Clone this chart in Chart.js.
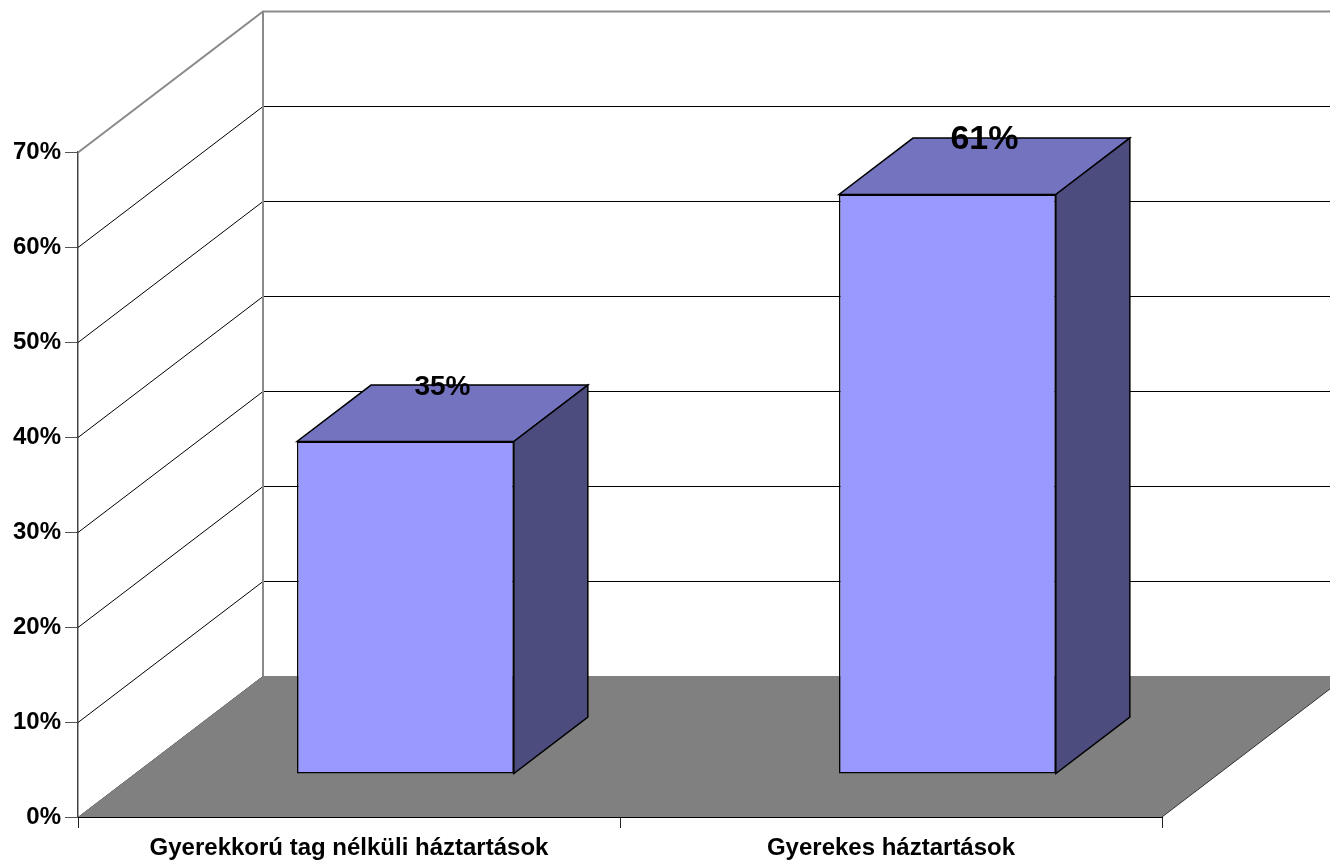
<!DOCTYPE html>
<html>
<head>
<meta charset="utf-8">
<script src="https://cdn.jsdelivr.net/npm/chart.js@4/dist/chart.umd.min.js"></script>
<style>
  html, body { margin: 0; padding: 0; background: #fff; }
</style>
</head>
<body>
<canvas id="chart" width="1330" height="861"></canvas>
<script>
const categories = ['Gyerekkorú tag nélküli háztartások', 'Gyerekes háztartások'];
const shares = [35, 61];
const tickValues = [0, 10, 20, 30, 40, 50, 60, 70];

const FONT = "'Liberation Sans', Arial, sans-serif";
// perspective offset of the back wall
const DX = 185, DY = -141;
const BAR_FRONT = 0.305; // where the bar front sits in depth
const BAR_DEPTH = 0.4;   // how deep the bars are
const labelSizes = [28, 34];

const threeD = {
    id: 'threeD',
    beforeDatasetsDraw(chart) {
        const { ctx, chartArea: a, scales: { y } } = chart;
        ctx.save();
        // walls: side wall diagonals + back wall lines
        tickValues.forEach((v, i) => {
            const py = Math.round(y.getPixelForValue(v)) + 0.5;
            const isTop = i === tickValues.length - 1;
            ctx.strokeStyle = isTop ? '#8a8a8a' : '#000';
            ctx.lineWidth = isTop ? 2 : 1;
            ctx.beginPath();
            ctx.moveTo(a.left, py);
            ctx.lineTo(a.left + DX, py + DY);
            ctx.lineTo(a.right + DX + 50, py + DY);
            ctx.stroke();
        });
        ctx.strokeStyle = '#8a8a8a';
        ctx.lineWidth = 2;
        ctx.beginPath();
        ctx.moveTo(a.left + DX, a.bottom + DY);
        ctx.lineTo(a.left + DX, a.top + DY);
        ctx.stroke();

        // floor
        ctx.fillStyle = '#808080';
        ctx.beginPath();
        ctx.moveTo(a.left, a.bottom);
        ctx.lineTo(a.right, a.bottom);
        ctx.lineTo(a.right + DX, a.bottom + DY);
        ctx.lineTo(a.left + DX, a.bottom + DY);
        ctx.closePath();
        ctx.fill();
        ctx.strokeStyle = '#333';
        ctx.lineWidth = 1;
        ctx.beginPath();
        ctx.moveTo(a.right, a.bottom);
        ctx.lineTo(a.right + DX, a.bottom + DY);
        ctx.stroke();
        ctx.strokeStyle = '#000';
        ctx.beginPath();
        ctx.moveTo(a.left, a.bottom + 0.5);
        ctx.lineTo(a.right, a.bottom + 0.5);
        ctx.stroke();
        ctx.restore();
    },
    beforeDatasetDraw(chart) {
        chart.ctx.save();
        chart.ctx.translate(DX * BAR_FRONT, DY * BAR_FRONT);
    },
    afterDatasetDraw(chart) {
        chart.ctx.restore();
    },
    afterDatasetsDraw(chart) {
        const { ctx } = chart;
        const meta = chart.getDatasetMeta(0);
        const sx = DX * BAR_FRONT, sy = DY * BAR_FRONT;
        const bx = DX * BAR_DEPTH, by = DY * BAR_DEPTH;
        ctx.save();
        ctx.lineWidth = 1.5;
        ctx.strokeStyle = '#000';
        ctx.lineJoin = 'miter';
        meta.data.forEach((bar, i) => {
            const p = bar.getProps(['x', 'y', 'base', 'width'], true);
            const x0 = p.x - p.width / 2 + sx, x1 = p.x + p.width / 2 + sx;
            const yt = p.y + sy, yb = p.base + sy;

            // top face
            ctx.fillStyle = '#7373bf';
            ctx.beginPath();
            ctx.moveTo(x0, yt);
            ctx.lineTo(x1, yt);
            ctx.lineTo(x1 + bx, yt + by);
            ctx.lineTo(x0 + bx, yt + by);
            ctx.closePath();
            ctx.fill();
            ctx.stroke();

            // side face
            ctx.fillStyle = '#4c4c7f';
            ctx.beginPath();
            ctx.moveTo(x1, yt);
            ctx.lineTo(x1 + bx, yt + by);
            ctx.lineTo(x1 + bx, yb + by);
            ctx.lineTo(x1, yb);
            ctx.closePath();
            ctx.fill();
            ctx.stroke();

            // value label
            ctx.fillStyle = '#000';
            ctx.font = 'bold ' + labelSizes[i] + 'px ' + FONT;
            ctx.textAlign = 'center';
            ctx.textBaseline = 'middle';
            ctx.fillText(shares[i] + '%', (x0 + x1) / 2 + bx / 2, yt + by + 2);
        });
        ctx.restore();
    }
};

new Chart(document.getElementById('chart'), {
    type: 'bar',
    data: {
        labels: categories,
        datasets: [{
            data: shares,
            backgroundColor: '#9999ff',
            borderColor: '#000',
            borderWidth: 1.5,
            borderSkipped: false,
            categoryPercentage: 1,
            barPercentage: 0.4,
            clip: false
        }]
    },
    options: {
        responsive: false,
        animation: false,
        devicePixelRatio: 1,
        layout: { padding: { top: 152, right: 168, left: 0, bottom: 0 } },
        plugins: {
            legend: { display: false },
            tooltip: { enabled: false }
        },
        scales: {
            y: {
                min: 0,
                max: 70,
                afterBuildTicks: s => { s.ticks = tickValues.map(v => ({ value: v })); },
                afterFit: s => { s.width = 78; },
                grid: {
                    drawOnChartArea: false,
                    tickLength: 13,
                    color: '#555'
                },
                border: { color: '#444', width: 1.5 },
                ticks: {
                    padding: 4,
                    color: '#000',
                    font: { family: FONT, size: 24, weight: 'bold' },
                    callback: v => v + '%'
                }
            },
            x: {
                afterFit: s => { s.height = 44; },
                grid: {
                    drawOnChartArea: false,
                    tickLength: 11,
                    color: '#222'
                },
                border: { color: '#000', width: 1 },
                ticks: {
                    padding: 6,
                    maxRotation: 0,
                    autoSkip: false,
                    color: '#000',
                    font: { family: FONT, size: 24, weight: 'bold' }
                }
            }
        }
    },
    plugins: [threeD]
});
</script>
</body>
</html>
